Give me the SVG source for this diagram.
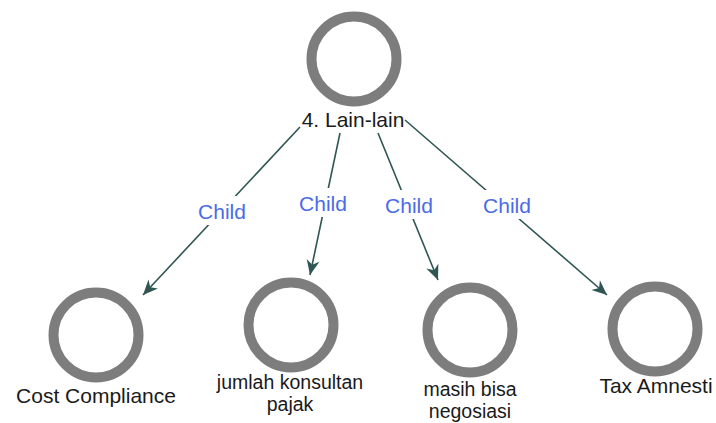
<svg xmlns="http://www.w3.org/2000/svg" width="716" height="423" viewBox="0 0 716 423">
<defs>
<style>
.ring{fill:none;stroke:#7d7d7d;stroke-width:10}
.lbl{font-family:"Liberation Sans",Arial,sans-serif;font-size:21px;fill:#1a1a1a;text-anchor:middle}
.lbl2{font-family:"Liberation Sans",Arial,sans-serif;font-size:19.5px;fill:#1a1a1a;text-anchor:middle}
.edge{stroke:#2f5653;stroke-width:1.6;fill:none}
.elbl{font-family:"Liberation Sans",Arial,sans-serif;font-size:21px;fill:#4a6ce6;text-anchor:middle}
.bg{fill:#ffffff}
</style>
<marker id="arr" markerUnits="userSpaceOnUse" markerWidth="20" markerHeight="16" viewBox="-16 -8 18 16" refX="0" refY="0" orient="auto">
<path d="M0,0 L-15,-6.5 L-10.5,0 L-15,6.5 Z" fill="#2f5653"/>
</marker>
</defs>
<rect width="716" height="423" fill="#ffffff"/>
<g id="connectors">
<g id="e1"><line class="edge" x1="300" y1="127" x2="143" y2="295" marker-end="url(#arr)"/><rect class="bg" x="192" y="196" width="60" height="29"/><text class="elbl" x="222" y="219">Child</text></g>
<g id="e2"><line class="edge" x1="340" y1="133" x2="310" y2="275" marker-end="url(#arr)"/><rect class="bg" x="293" y="188" width="60" height="29"/><text class="elbl" x="323" y="211">Child</text></g>
<g id="e3"><line class="edge" x1="378" y1="133" x2="438" y2="280" marker-end="url(#arr)"/><rect class="bg" x="379" y="190" width="60" height="29"/><text class="elbl" x="409" y="213">Child</text></g>
<g id="e4"><line class="edge" x1="405" y1="120" x2="607" y2="295" marker-end="url(#arr)"/><rect class="bg" x="477" y="190" width="60" height="29"/><text class="elbl" x="507" y="213">Child</text></g>
</g>
<g id="n0"><circle class="ring" cx="354" cy="59" r="42.5"/><text class="lbl" x="353" y="127">4. Lain-lain</text></g>
<g id="n1"><circle class="ring" cx="96" cy="335" r="42.5"/><text class="lbl" x="96" y="403">Cost Compliance</text></g>
<g id="n2"><circle class="ring" cx="291" cy="325" r="42.5"/><text class="lbl2" x="290" y="389">jumlah konsultan</text><text class="lbl2" x="290" y="411">pajak</text></g>
<g id="n3"><circle class="ring" cx="470" cy="330" r="42.5"/><text class="lbl2" x="470" y="396">masih bisa</text><text class="lbl2" x="470" y="418">negosiasi</text></g>
<g id="n4"><circle class="ring" cx="655" cy="329" r="42.5"/><text class="lbl" x="656" y="393">Tax Amnesti</text></g>
</svg>
